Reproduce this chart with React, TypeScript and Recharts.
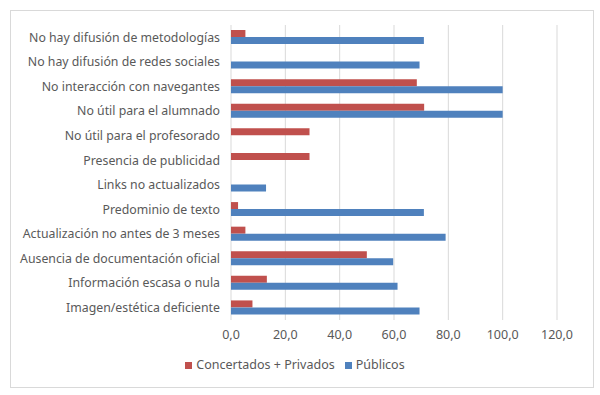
import { BarChart, Bar, XAxis, YAxis, CartesianGrid, Legend } from "recharts";

const categories = [
  "No hay difusión de metodologías",
  "No hay difusión de redes sociales",
  "No interacción con navegantes",
  "No útil para el alumnado",
  "No útil para el profesorado",
  "Presencia de publicidad",
  "Links no actualizados",
  "Predominio de texto",
  "Actualización no antes de 3 meses",
  "Ausencia de documentación oficial",
  "Información escasa o nula",
  "Imagen/estética deficiente",
];

const concertadosPrivados = [5.3, 0, 68.4, 71.1, 28.9, 28.9, 0, 2.6, 5.3, 50.0, 13.2, 7.9];
const publicos = [71.0, 69.4, 100, 100, 0, 0, 12.9, 71.0, 79.0, 59.7, 61.3, 69.4];

const xTicks = [0, 20, 40, 60, 80, 100, 120];

const RED = "#C0504D";
const BLUE = "#4F81BD";
const TEXT = "#595959";
const FONT = "'Noto Sans', sans-serif";

const data = categories.map((name, i) => ({
  name,
  concertados: concertadosPrivados[i],
  publicos: publicos[i],
}));

function formatTick(v: number): string {
  return v.toFixed(1).replace(".", ",");
}

export default function App() {
  return (
    <div style={{ position: "absolute", left: 0, top: 0, width: 600, height: 395, background: "#fff", fontFamily: FONT }}>
      <div
        style={{
          position: "absolute",
          left: 10,
          top: 10,
          width: 582,
          height: 376,
          border: "1px solid #d9d9d9",
        }}
      />
      <div style={{ position: "absolute", left: 0, top: 0 }}>
        <BarChart
          width={600}
          height={395}
          data={data}
          layout="vertical"
          barSize={7}
          barGap={0}
          margin={{ top: 25, right: 43, bottom: 33, left: 0 }}
        >
          <CartesianGrid horizontal={false} stroke="#d9d9d9" />
          <XAxis
            type="number"
            domain={[0, 120]}
            ticks={xTicks}
            tickFormatter={formatTick}
            axisLine={false}
            tickLine={false}
            height={25}
            tick={{ fill: TEXT, fontSize: 12.5, fontFamily: FONT }}
            tickMargin={4}
          />
          <YAxis
            type="category"
            dataKey="name"
            width={231}
            axisLine={false}
            tickLine={false}
            tickSize={0}
            tickMargin={11}
            interval={0}
            tick={{ fill: TEXT, fontSize: 12.3, fontFamily: FONT }}
          />
          <Legend
            iconType="square"
            iconSize={7}
            wrapperStyle={{ left: 0, width: 600, top: 356, fontSize: 12.5, fontFamily: FONT }}
            formatter={(value) => <span style={{ color: TEXT }}>{value}</span>}
          />
          <Bar dataKey="concertados" name="Concertados + Privados" fill={RED} isAnimationActive={false} />
          <Bar dataKey="publicos" name="Públicos" fill={BLUE} isAnimationActive={false} />
        </BarChart>
      </div>
    </div>
  );
}
